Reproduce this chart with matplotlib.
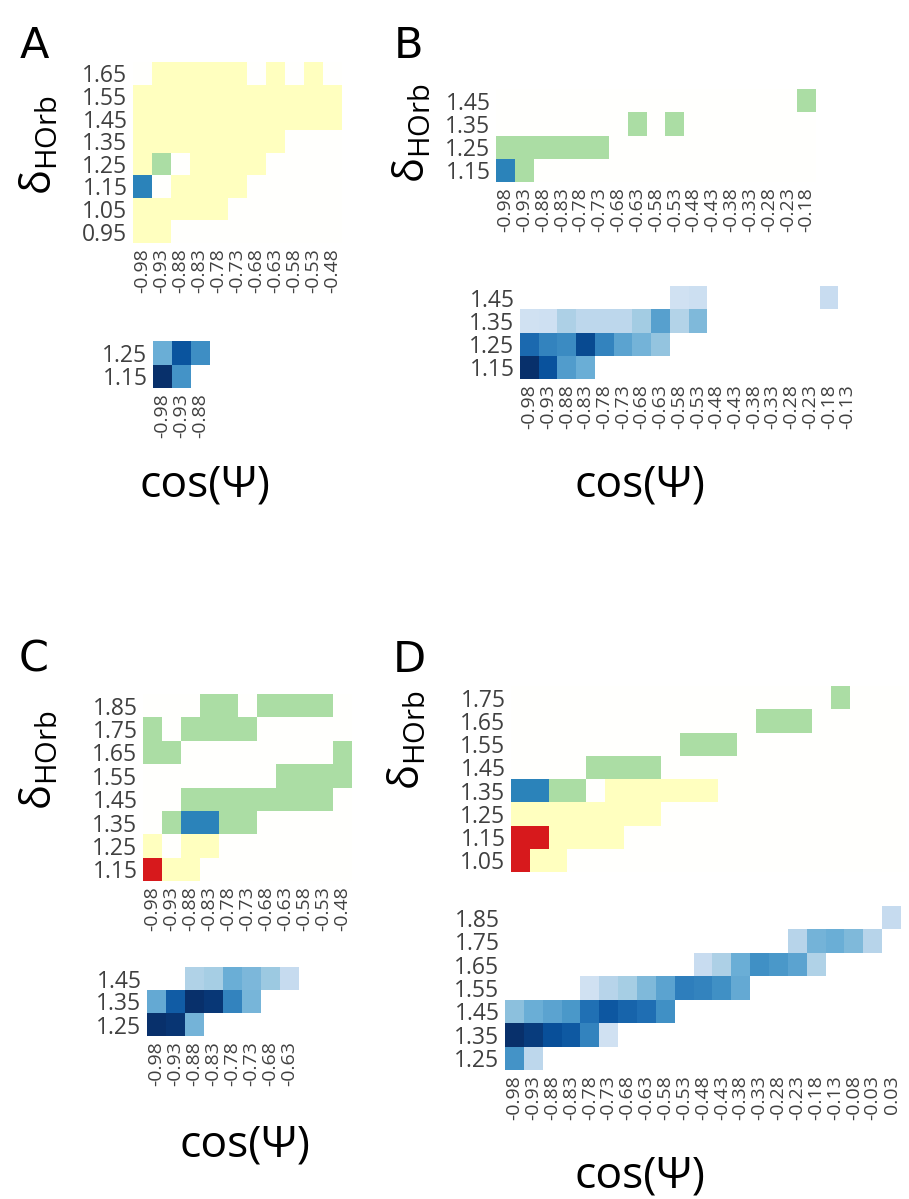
import numpy as np
import matplotlib
matplotlib.use('Agg')
import matplotlib.pyplot as plt
from matplotlib.colors import ListedColormap, BoundaryNorm

plt.rcParams['font.family'] = ['Open Sans', 'DejaVu Sans']
plt.rcParams['mathtext.fontset'] = 'custom'
plt.rcParams['mathtext.rm'] = 'Open Sans'

W, H = 909, 1199
nan = np.nan

# bin labels of cos(psi)
cos_lab = ['-0.98', '-0.93', '-0.88', '-0.83', '-0.78', '-0.73', '-0.68', '-0.63',
           '-0.58', '-0.53', '-0.48', '-0.43', '-0.38', '-0.33', '-0.28', '-0.23',
           '-0.18', '-0.13', '-0.08', '-0.03', '0.03', '0.08']

# categorical maps: 0 empty, 1 yellow, 2 green, 3 blue, 4 red (rows top -> bottom)
A_top_y = ['1.65', '1.55', '1.45', '1.35', '1.25', '1.15', '1.05', '0.95']
A_top = [[0, 1, 1, 1, 1, 1, 0, 1, 0, 1, 0],
         [1, 1, 1, 1, 1, 1, 1, 1, 1, 1, 1],
         [1, 1, 1, 1, 1, 1, 1, 1, 1, 1, 1],
         [1, 1, 1, 1, 1, 1, 1, 1, 0, 0, 0],
         [1, 2, 0, 1, 1, 1, 1, 0, 0, 0, 0],
         [3, 0, 1, 1, 1, 1, 0, 0, 0, 0, 0],
         [1, 1, 1, 1, 1, 0, 0, 0, 0, 0, 0],
         [1, 1, 0, 0, 0, 0, 0, 0, 0, 0, 0]]

B_top_y = ['1.45', '1.35', '1.25', '1.15']
B_top = [[0, 0, 0, 0, 0, 0, 0, 0, 0, 0, 0, 0, 0, 0, 0, 0, 2],
         [0, 0, 0, 0, 0, 0, 0, 2, 0, 2, 0, 0, 0, 0, 0, 0, 0],
         [2, 2, 2, 2, 2, 2, 0, 0, 0, 0, 0, 0, 0, 0, 0, 0, 0],
         [3, 2, 0, 0, 0, 0, 0, 0, 0, 0, 0, 0, 0, 0, 0, 0, 0]]

C_top_y = ['1.85', '1.75', '1.65', '1.55', '1.45', '1.35', '1.25', '1.15']
C_top = [[0, 0, 0, 2, 2, 0, 2, 2, 2, 2, 0],
         [2, 0, 2, 2, 2, 2, 0, 0, 0, 0, 0],
         [2, 2, 0, 0, 0, 0, 0, 0, 0, 0, 2],
         [0, 0, 0, 0, 0, 0, 0, 2, 2, 2, 2],
         [0, 0, 2, 2, 2, 2, 2, 2, 2, 2, 0],
         [0, 2, 3, 3, 2, 2, 0, 0, 0, 0, 0],
         [1, 0, 1, 1, 0, 0, 0, 0, 0, 0, 0],
         [4, 1, 1, 0, 0, 0, 0, 0, 0, 0, 0]]

D_top_y = ['1.75', '1.65', '1.55', '1.45', '1.35', '1.25', '1.15', '1.05']
D_top = [[0, 0, 0, 0, 0, 0, 0, 0, 0, 0, 0, 0, 0, 0, 0, 0, 0, 2, 0, 0, 0],
         [0, 0, 0, 0, 0, 0, 0, 0, 0, 0, 0, 0, 0, 2, 2, 2, 0, 0, 0, 0, 0],
         [0, 0, 0, 0, 0, 0, 0, 0, 0, 2, 2, 2, 0, 0, 0, 0, 0, 0, 0, 0, 0],
         [0, 0, 0, 0, 2, 2, 2, 2, 0, 0, 0, 0, 0, 0, 0, 0, 0, 0, 0, 0, 0],
         [3, 3, 2, 2, 0, 1, 1, 1, 1, 1, 1, 0, 0, 0, 0, 0, 0, 0, 0, 0, 0],
         [1, 1, 1, 1, 1, 1, 1, 1, 0, 0, 0, 0, 0, 0, 0, 0, 0, 0, 0, 0, 0],
         [4, 4, 1, 1, 1, 1, 0, 0, 0, 0, 0, 0, 0, 0, 0, 0, 0, 0, 0, 0, 0],
         [4, 1, 1, 0, 0, 0, 0, 0, 0, 0, 0, 0, 0, 0, 0, 0, 0, 0, 0, 0, 0]]

# normalised counts (Blues), rows top -> bottom
A_bot_y = ['1.25', '1.15']
A_bot = [[0.50, 0.86, 0.64],
         [1.00, 0.62, nan]]

B_bot_y = ['1.45', '1.35', '1.25', '1.15']
B_bot = [[nan, nan, nan, nan, nan, nan, nan, nan, 0.20, 0.22, nan, nan, nan, nan, nan, nan, 0.24, nan],
         [0.20, 0.21, 0.33, 0.28, 0.28, 0.28, 0.36, 0.56, 0.31, 0.45, nan, nan, nan, nan, nan, nan, nan, nan],
         [0.78, 0.68, 0.65, 0.90, 0.68, 0.55, 0.48, 0.40, nan, nan, nan, nan, nan, nan, nan, nan, nan, nan],
         [1.00, 0.87, 0.58, 0.50, nan, nan, nan, nan, nan, nan, nan, nan, nan, nan, nan, nan, nan, nan]]

C_bot_y = ['1.45', '1.35', '1.25']
C_bot = [[nan, nan, 0.32, 0.35, 0.50, 0.46, 0.38, 0.25],
         [0.52, 0.83, 1.00, 0.97, 0.68, 0.47, nan, nan],
         [1.00, 0.98, 0.48, nan, nan, nan, nan, nan]]

D_bot_y = ['1.85', '1.75', '1.65', '1.55', '1.45', '1.35', '1.25']
D_bot = [[nan] * 20 + [0.25],
         [nan] * 15 + [0.30, 0.48, 0.50, 0.45, 0.30, nan],
         [nan] * 10 + [0.24, 0.33, 0.50, 0.63, 0.60, 0.55, 0.32, nan, nan, nan, nan],
         [nan] * 4 + [0.20, 0.30, 0.35, 0.45, 0.55, 0.70, 0.68, 0.63, 0.52] + [nan] * 8,
         [0.42, 0.50, 0.55, 0.60, 0.75, 0.85, 0.80, 0.76, 0.63] + [nan] * 12,
         [1.00, 0.95, 0.88, 0.84, 0.68, 0.20] + [nan] * 15,
         [0.62, 0.28] + [nan] * 19]

cat_cmap = ListedColormap(['#fffffd', '#ffffbf', '#abdda4', '#2b83ba', '#d7191c'])
cat_norm = BoundaryNorm([-0.5, 0.5, 1.5, 2.5, 3.5, 4.5], cat_cmap.N)
blues = plt.cm.Blues

fig = plt.figure(figsize=(W / 100, H / 100), dpi=100)
tcol = '#404040'


def heat(box, data, ylab, xlab, cmap, vmin=None, vmax=None, norm=None):
    x0, y0, x1, y1 = box  # pixel box of the cell area
    ax = fig.add_axes([x0 / W, 1 - y1 / H, (x1 - x0) / W, (y1 - y0) / H])
    arr = np.ma.masked_invalid(np.array(data, dtype=float))
    ax.pcolormesh(arr, cmap=cmap, norm=norm, vmin=vmin, vmax=vmax)
    ax.set_xlim(0, arr.shape[1])
    ax.set_ylim(arr.shape[0], 0)
    ax.set_yticks(np.arange(len(ylab)) + 0.5, ylab)
    if xlab:
        ax.set_xticks(np.arange(len(xlab)) + 0.5, xlab, rotation=90)
    else:
        ax.set_xticks([])
    ax.tick_params(length=0, pad=4, colors=tcol)
    ax.tick_params(axis='y', labelsize=16.5)
    ax.tick_params(axis='x', labelsize=14)
    for s in ax.spines.values():
        s.set_visible(False)
    return ax


heat((133, 62, 342, 243), A_top, A_top_y, cos_lab[:11], cat_cmap, norm=cat_norm)
heat((153, 341, 210, 388), A_bot, A_bot_y, cos_lab[:3], blues, 0, 1)
heat((496, 89, 816, 182), B_top, B_top_y, cos_lab[:17], cat_cmap, norm=cat_norm)
heat((520, 286, 857, 379), B_bot, B_bot_y, cos_lab[:18], blues, 0, 1)
heat((143, 694, 352, 881), C_top, C_top_y, cos_lab[:11], cat_cmap, norm=cat_norm)
heat((147, 967, 299, 1036), C_bot, C_bot_y, cos_lab[:8], blues, 0, 1)
heat((511, 686, 906, 872), D_top, D_top_y, None, cat_cmap, norm=cat_norm)
heat((505, 906, 901, 1070), D_bot, D_bot_y, cos_lab[:21], blues, 0, 1)

# panel letters
for lab, x, y in [('A', 34, 46), ('B', 409, 46), ('C', 34, 660), ('D', 409, 660)]:
    fig.text(x / W, 1 - y / H, lab, fontsize=31, ha='center', va='center',
             family=['Liberation Sans Narrow', 'DejaVu Sans'])

# axis titles
dl = r'$\mathrm{\delta_{HOrb}}$'
for x, y in [(40, 145), (413, 133), (40, 760), (408, 740)]:
    fig.text(x / W, 1 - y / H, dl, fontsize=30, rotation=90, ha='center', va='center')
for x, y in [(205, 485), (640, 485), (245, 1145), (640, 1176)]:
    fig.text(x / W, 1 - y / H, 'cos(Ψ)', fontsize=32, ha='center', va='center')

fig.savefig('out.png', dpi=100)
